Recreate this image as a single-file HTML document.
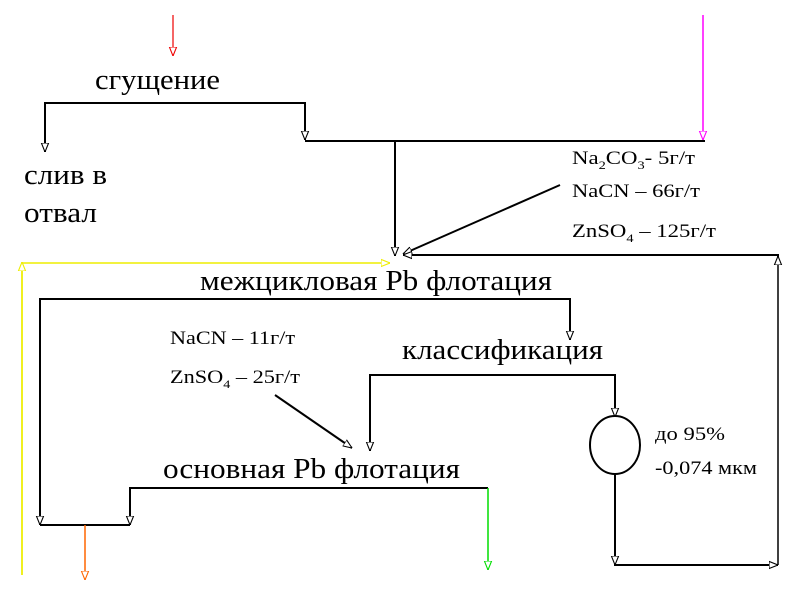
<!DOCTYPE html><html><head><meta charset="utf-8"><style>body{margin:0;background:#fff}svg{display:block}text{font-family:"Liberation Serif",serif}</style></head><body>
<svg width="800" height="600" xmlns="http://www.w3.org/2000/svg">
<defs>
<marker id="a" viewBox="0 0 10 10" refX="10" refY="5" markerWidth="9" markerHeight="9" orient="auto" markerUnits="userSpaceOnUse"><path d="M0,1 L10,5 L0,9 z" fill="#fff" stroke="#000" stroke-width="1.2"/></marker>
<marker id="r" viewBox="0 0 10 10" refX="10" refY="5" markerWidth="9" markerHeight="9" orient="auto" markerUnits="userSpaceOnUse"><path d="M0,1 L10,5 L0,9 z" fill="#fff" stroke="#e00" stroke-width="1.2"/></marker>
<marker id="m" viewBox="0 0 10 10" refX="10" refY="5" markerWidth="9" markerHeight="9" orient="auto" markerUnits="userSpaceOnUse"><path d="M0,1 L10,5 L0,9 z" fill="#fff" stroke="#f0f" stroke-width="1.2"/></marker>
<marker id="y" viewBox="0 0 10 10" refX="10" refY="5" markerWidth="9" markerHeight="9" orient="auto" markerUnits="userSpaceOnUse"><path d="M0,1 L10,5 L0,9 z" fill="#fff" stroke="#ee0" stroke-width="1.2"/></marker>
<marker id="g" viewBox="0 0 10 10" refX="10" refY="5" markerWidth="9" markerHeight="9" orient="auto" markerUnits="userSpaceOnUse"><path d="M0,1 L10,5 L0,9 z" fill="#fff" stroke="#0d0" stroke-width="1.2"/></marker>
<marker id="o" viewBox="0 0 10 10" refX="10" refY="5" markerWidth="9" markerHeight="9" orient="auto" markerUnits="userSpaceOnUse"><path d="M0,1 L10,5 L0,9 z" fill="#fff" stroke="#f60" stroke-width="1.2"/></marker>
</defs>
<g fill="none" stroke-width="2">
<line x1="173" y1="15" x2="173" y2="56" stroke="#e00" stroke-width="1.2" marker-end="url(#r)"/>
<line x1="703" y1="15" x2="703" y2="140" stroke="#f0f" stroke-width="1.5" marker-end="url(#m)"/>
<polyline points="45,150 45,103 305,103 305,140" stroke="#000" marker-end="url(#a)"/>
<line x1="45" y1="103" x2="45" y2="152" stroke="#000" marker-end="url(#a)"/>
<line x1="305" y1="141" x2="705" y2="141" stroke="#000"/>
<line x1="395" y1="141" x2="395" y2="256" stroke="#000" marker-end="url(#a)"/>
<line x1="560" y1="185" x2="403" y2="254" stroke="#000" marker-end="url(#a)"/>
<polyline points="22,575 22,263 390,263" stroke="#ee0" stroke-width="1.5" marker-end="url(#y)"/>
<line x1="22" y1="575" x2="22" y2="262" stroke="#ee0" stroke-width="1.5" marker-end="url(#y)"/>
<polyline points="778,258 778,255 403,255" stroke="#000" marker-end="url(#a)"/>
<line x1="778" y1="565" x2="778" y2="256" stroke="#000" stroke-width="1.5" marker-end="url(#a)"/>
<polyline points="40,525 40,299 570,299 570,340" stroke="#000" marker-end="url(#a)"/>
<line x1="40" y1="300" x2="40" y2="525" stroke="#000" marker-end="url(#a)"/>
<polyline points="370,450 370,375 615,375 615,417" stroke="#000" marker-end="url(#a)"/>
<line x1="370" y1="376" x2="370" y2="451" stroke="#000" marker-end="url(#a)"/>
<ellipse cx="615" cy="445" rx="25" ry="29" stroke="#000"/>
<polyline points="615,474 615,565 778,565" stroke="#000" marker-end="url(#a)"/>
<line x1="615" y1="474" x2="615" y2="565" stroke="#000" marker-end="url(#a)"/>
<line x1="275" y1="395" x2="352" y2="448" stroke="#000" marker-end="url(#a)"/>
<polyline points="130,525 130,488 488,488" stroke="#000"/>
<line x1="130" y1="489" x2="130" y2="525" stroke="#000" marker-end="url(#a)"/>
<line x1="488" y1="488" x2="488" y2="570" stroke="#0d0" stroke-width="1.5" marker-end="url(#g)"/>
<line x1="40" y1="525" x2="130" y2="525" stroke="#000"/>
<line x1="85" y1="525" x2="85" y2="580" stroke="#f60" stroke-width="1.5" marker-end="url(#o)"/>
</g>
<g fill="#000">
<text x="95" y="89" font-size="29" textLength="125" lengthAdjust="spacingAndGlyphs">сгущение</text>
<text x="24" y="184" font-size="29" textLength="83" lengthAdjust="spacingAndGlyphs">слив в</text>
<text x="24" y="222" font-size="29" textLength="73" lengthAdjust="spacingAndGlyphs">отвал</text>
<text x="572" y="164" font-size="19" textLength="123" lengthAdjust="spacingAndGlyphs">Na<tspan font-size="12" dy="5">2</tspan><tspan dy="-5">CO</tspan><tspan font-size="12" dy="5">3</tspan><tspan dy="-5">- 5г/т</tspan></text>
<text x="572" y="197" font-size="19" textLength="128" lengthAdjust="spacingAndGlyphs">NaCN – 66г/т</text>
<text x="572" y="237" font-size="19" textLength="144" lengthAdjust="spacingAndGlyphs">ZnSO<tspan font-size="12" dy="5">4</tspan><tspan dy="-5"> – 125г/т</tspan></text>
<text x="200" y="290" font-size="29" textLength="352" lengthAdjust="spacingAndGlyphs">межцикловая Pb флотация</text>
<text x="170" y="344" font-size="19" textLength="125" lengthAdjust="spacingAndGlyphs">NaCN – 11г/т</text>
<text x="170" y="383" font-size="19" textLength="130" lengthAdjust="spacingAndGlyphs">ZnSO<tspan font-size="12" dy="5">4</tspan><tspan dy="-5"> – 25г/т</tspan></text>
<text x="402" y="359" font-size="29" textLength="201" lengthAdjust="spacingAndGlyphs">классификация</text>
<text x="655" y="440" font-size="19" textLength="70" lengthAdjust="spacingAndGlyphs">до 95%</text>
<text x="655" y="474" font-size="19" textLength="102" lengthAdjust="spacingAndGlyphs">-0,074 мкм</text>
<text x="163" y="478" font-size="29" textLength="297" lengthAdjust="spacingAndGlyphs">основная Pb флотация</text>
</g>
</svg></body></html>
